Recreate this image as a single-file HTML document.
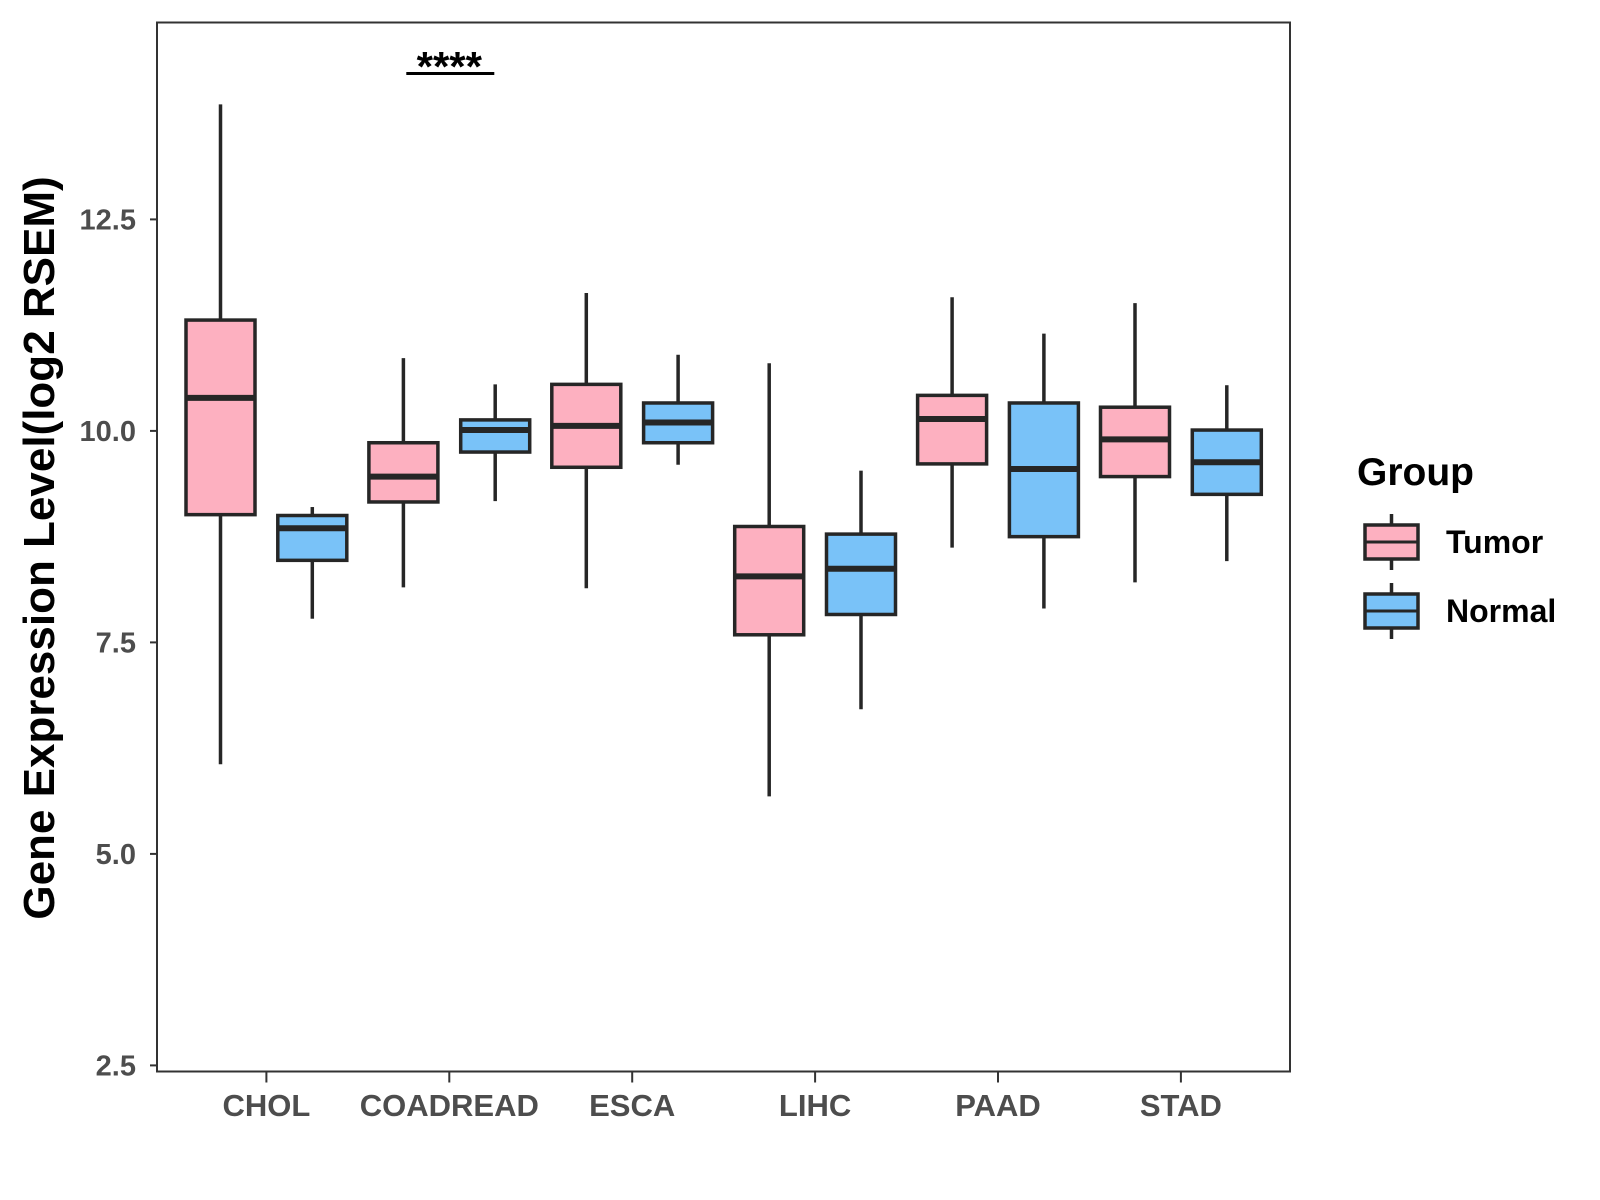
<!DOCTYPE html>
<html><head><meta charset="utf-8"><style>body{margin:0;background:#fff}svg{display:block}</style></head>
<body>
<svg id="chart" width="1600" height="1200" xmlns="http://www.w3.org/2000/svg" font-family="Liberation Sans, sans-serif"></svg>
<script>
const categories=["CHOL","COADREAD","ESCA","LIHC","PAAD","STAD"];
const tumorLow=[6.06,8.15,8.14,5.68,8.62,8.21];
const tumorQ1=[9.01,9.16,9.57,7.59,9.61,9.46];
const tumorMed=[10.39,9.46,10.06,8.28,10.14,9.9];
const tumorQ3=[11.31,9.86,10.55,8.87,10.42,10.28];
const tumorHigh=[13.86,10.86,11.63,10.8,11.58,11.51];
const normalLow=[7.78,9.17,9.6,6.71,7.9,8.46];
const normalQ1=[8.47,9.75,9.86,7.83,8.75,9.25];
const normalMed=[8.85,10.01,10.1,8.37,9.55,9.63];
const normalQ3=[9.0,10.13,10.33,8.78,10.33,10.01];
const normalHigh=[9.10,10.55,10.9,9.53,11.15,10.54];
const yTicks=[2.5,5.0,7.5,10.0,12.5];
const sigLabels=[{cat:1,text:"****"}];

const NS="http://www.w3.org/2000/svg";
const svg=document.getElementById('chart');
const L=157,R=1290,T=22.5,B=1071.5;
const y=v=>219.4+(12.5-v)*84.6;
const x=i=>266.4+i*182.9;
function el(t,a,p){const e=document.createElementNS(NS,t);for(const k in a)e.setAttribute(k,a[k]);(p||svg).appendChild(e);return e;}

const panel=el('rect',{x:L,y:T,width:R-L,height:B-T,fill:'none',stroke:'#333','stroke-width':2});



yTicks.forEach(v=>{
  const tk=el('line',{x1:L-7,x2:L,y1:y(v),y2:y(v),stroke:'#333','stroke-width':2});
  
  
  const t=el('text',{x:L-21,y:y(v)+10,'text-anchor':'end','font-size':29,'font-weight':'bold',fill:'#4d4d4d'});
  t.textContent=v.toFixed(1);
  
  
});
categories.forEach((c,i)=>{
  const tk=el('line',{x1:x(i),x2:x(i),y1:B,y2:B+11,stroke:'#333','stroke-width':2});
  
  
  const t=el('text',{x:x(i),y:1116,'text-anchor':'middle','font-size':31,'font-weight':'bold',fill:'#4d4d4d'});
  t.textContent=c;
  
  
});
function box(cx,lo,q1,md,q3,hi,fill,name){
  const g=el('g',{});
  
  
  el('line',{x1:cx,x2:cx,y1:y(hi),y2:y(q3),stroke:'#262626','stroke-width':3.5},g);
  el('line',{x1:cx,x2:cx,y1:y(q1),y2:y(lo),stroke:'#262626','stroke-width':3.5},g);
  el('rect',{x:cx-34.5,y:y(q3),width:69,height:y(q1)-y(q3),fill:fill,stroke:'#262626','stroke-width':3.5},g);
  el('line',{x1:cx-34.5,x2:cx+34.5,y1:y(md),y2:y(md),stroke:'#262626','stroke-width':6},g);
}
categories.forEach((c,i)=>{
  box(x(i)-45.9,tumorLow[i],tumorQ1[i],tumorMed[i],tumorQ3[i],tumorHigh[i],'#FDB0C0','box-tumor-'+c.toLowerCase());
  box(x(i)+45.9,normalLow[i],normalQ1[i],normalMed[i],normalQ3[i],normalHigh[i],'#79C2F8','box-normal-'+c.toLowerCase());
});
sigLabels.forEach(s=>{
  const ln=el('line',{x1:x(s.cat)-43,x2:x(s.cat)+45,y1:73.5,y2:73.5,stroke:'#000','stroke-width':3});
  
  
  const t=el('text',{x:x(s.cat),y:81,'text-anchor':'middle','font-size':42,'font-weight':'bold',fill:'#000'});
  t.textContent=s.text;
  
  
});
const yt=el('text',{transform:'translate(54,548) rotate(-90)','text-anchor':'middle','font-size':44,'font-weight':'bold',fill:'#000'});
yt.textContent='Gene Expression Level(log2 RSEM)';



const lg=el('g',{});


const lt=el('text',{x:1357,y:485,'font-size':39,'font-weight':'bold',fill:'#000'},lg);
lt.textContent='Group';


[["Tumor","#FDB0C0",542],["Normal","#79C2F8",611]].forEach(([n,f,cy])=>{
  const g=el('g',{},lg);
  
  
  el('line',{x1:1391.5,x2:1391.5,y1:cy-28,y2:cy+28,stroke:'#262626','stroke-width':3.5},g);
  el('rect',{x:1365,y:cy-17,width:53,height:34,fill:f,stroke:'#262626','stroke-width':3.5},g);
  el('line',{x1:1365,x2:1418,y1:cy,y2:cy,stroke:'#262626','stroke-width':3},g);
  const t=el('text',{x:1446,y:cy+11,'font-size':32,'font-weight':'bold',fill:'#000'},g);
  t.textContent=n;
});
</script>
</body></html>
